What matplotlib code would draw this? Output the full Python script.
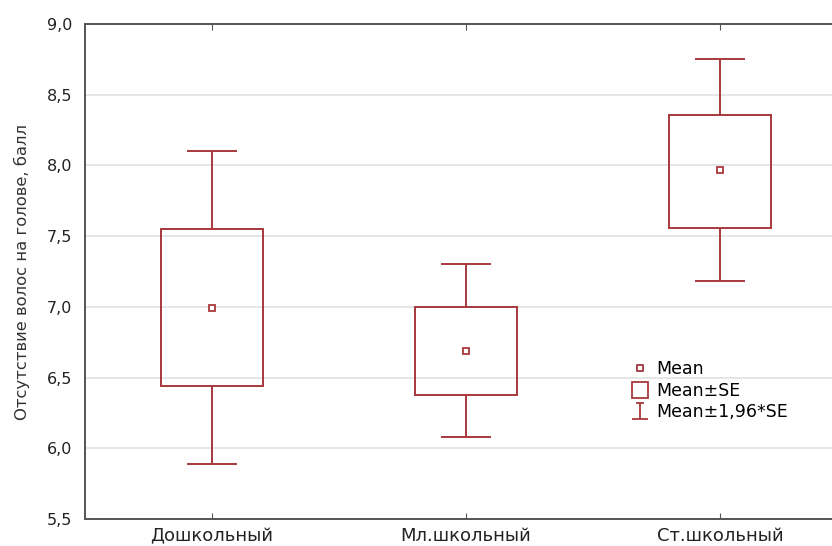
import numpy as np
import matplotlib.pyplot as plt
from matplotlib.lines import Line2D
from matplotlib.path import Path
from matplotlib.ticker import FuncFormatter

plt.rcParams['font.family'] = ['DejaVu Sans']

# данные
groups = ['Дошкольный', 'Мл.школьный', 'Ст.школьный']
mean = [6.99, 6.69, 7.97]
se_lo = [6.44, 6.38, 7.56]
se_hi = [7.55, 7.00, 8.36]
ci_lo = [5.89, 6.08, 7.18]
ci_hi = [8.10, 7.30, 8.75]
yticks = [5.5, 6.0, 6.5, 7.0, 7.5, 8.0, 8.5, 9.0]

red = '#a8383c'
spine = '#555555'
x = np.arange(len(groups))

fig = plt.figure(figsize=(8.32, 5.46), dpi=100)
ax = fig.add_axes([85 / 832, 1 - 519 / 546, 762 / 832, 495 / 546])

ax.yaxis.grid(True, color='#e2e2e2', lw=1.2, zorder=0)
ax.set_axisbelow(True)

lo = np.array(se_lo)
hi = np.array(se_hi)
ax.bar(x, hi - lo, bottom=lo, width=0.4, fill=False, edgecolor=red, lw=1.4, zorder=3)
ax.vlines(x, hi, ci_hi, color=red, lw=1.4, zorder=3)
ax.vlines(x, ci_lo, lo, color=red, lw=1.4, zorder=3)
ax.hlines(ci_hi, x - 0.1, x + 0.1, color=red, lw=1.4, zorder=3)
ax.hlines(ci_lo, x - 0.1, x + 0.1, color=red, lw=1.4, zorder=3)
ax.plot(x, mean, ls='none', marker='s', ms=5, mfc='white', mec=red, mew=1.3, zorder=4)

ax.set_xlim(-0.5, 2.5)
ax.set_ylim(5.5, 9.0)
ax.set_yticks(yticks)
ax.yaxis.set_major_formatter(FuncFormatter(lambda v, p: f'{v:.1f}'.replace('.', ',')))
ax.set_xticks(x)
ax.set_xticklabels(groups, fontsize=13)
ax.tick_params(axis='y', length=0, pad=9, labelsize=11.5, colors='#222222')
ax.tick_params(axis='x', direction='in', length=4, top=True, pad=6, color=spine, labelcolor='#222222')
ax.set_ylabel('Отсутствие волос на голове, балл', fontsize=11.8, color='#333333', labelpad=12)

for s in ['left', 'bottom', 'top']:
    ax.spines[s].set_color(spine)
    ax.spines[s].set_linewidth(1.4)
ax.spines['right'].set_visible(False)

# значок "Mean±1,96*SE"
cap = Path([(-0.45, 0.9), (0.45, 0.9), (0, 0.9), (0, -0.9), (-1, -0.9), (1, -0.9)],
           [Path.MOVETO, Path.LINETO, Path.MOVETO, Path.LINETO, Path.MOVETO, Path.LINETO])
handles = [
    Line2D([], [], ls='none', marker='s', ms=5, mfc='white', mec=red, mew=1.3),
    Line2D([], [], ls='none', marker='s', ms=11.5, mfc='none', mec=red, mew=1.3),
    Line2D([], [], ls='none', marker=cap, ms=12, mfc='none', mec=red, mew=1.3),
]
ax.legend(handles, ['Mean', 'Mean±SE', 'Mean±1,96*SE'], loc='upper left',
          bbox_to_anchor=(0.705, 0.338), frameon=False, fontsize=12.5,
          handlelength=1.0, handletextpad=0.45, labelspacing=0.2, borderpad=0)

fig.savefig('out.png', dpi=100)
